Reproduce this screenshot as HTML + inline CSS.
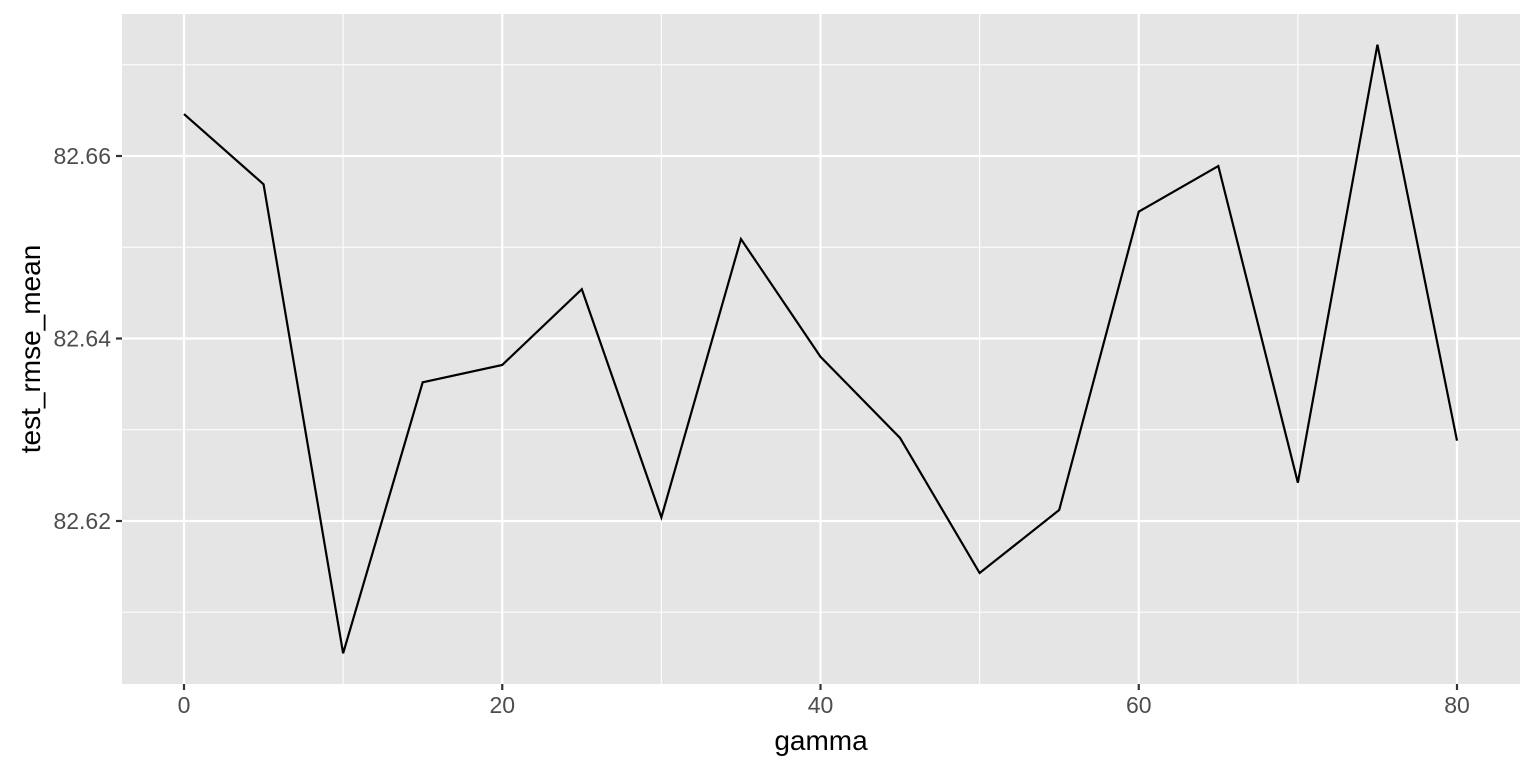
<!DOCTYPE html>
<html><head><meta charset="utf-8"><style>
html,body{margin:0;padding:0;background:#fff;}
svg{display:block;font-family:"Liberation Sans",Arial,sans-serif;}
</style></head><body>
<svg id="chart" width="1536" height="768" viewBox="0 0 1536 768">
<rect x="122" y="14" width="1398" height="670" fill="#e5e5e5"/>
<g id="grid"></g>
<path id="line" fill="none" stroke="#000" stroke-width="2.2"/>
<g id="axes"></g>
<text x="821" y="750" font-size="28" text-anchor="middle" fill="#000">gamma</text>
<text transform="translate(40,349) rotate(-90)" font-size="28" text-anchor="middle" fill="#000">test_rmse_mean</text>
</svg>
<script>
const gammaValues = [0,5,10,15,20,25,30,35,40,45,50,55,60,65,70,75,80];
const rmseValues = [82.6646,82.6569,82.6055,82.6352,82.6371,82.6454,82.6204,82.6509,82.6380,82.6291,82.6143,82.6212,82.6539,82.6589,82.6242,82.6722,82.6288];
const xTicks = [0,20,40,60,80];
const xMinor = [10,30,50,70];
const yTicks = [82.62,82.64,82.66];
const yMinor = [82.61,82.63,82.65,82.67];
const yTickLabels = ["82.62","82.64","82.66"];

function xs(v){return 184 + (v-0)*(1457-184)/80;}
function ys(v){return 156 + (82.66-v)*(521-156)/0.04;}
const NS="http://www.w3.org/2000/svg";
const grid=document.getElementById('grid'), axes=document.getElementById('axes');
function mk(tag,attrs,parent){const e=document.createElementNS(NS,tag);for(const k in attrs)e.setAttribute(k,attrs[k]);parent.appendChild(e);return e;}
yMinor.forEach(v=>{const l=mk('line',{x1:122,x2:1520,y1:ys(v),y2:ys(v),stroke:'#fff','stroke-width':1.1},grid);

});
xMinor.forEach(v=>{const l=mk('line',{x1:xs(v),x2:xs(v),y1:14,y2:684,stroke:'#fff','stroke-width':1.1},grid);

});
yTicks.forEach((v,i)=>{const l=mk('line',{x1:122,x2:1520,y1:ys(v),y2:ys(v),stroke:'#fff','stroke-width':2.2},grid);


const t=mk('line',{x1:116,x2:122,y1:ys(v),y2:ys(v),stroke:'#333','stroke-width':2.2},axes);


const tx=mk('text',{x:111,y:ys(v)+8,'font-size':23,'text-anchor':'end',fill:'#4d4d4d'},axes);tx.textContent=yTickLabels[i];

});
xTicks.forEach(v=>{const l=mk('line',{x1:xs(v),x2:xs(v),y1:14,y2:684,stroke:'#fff','stroke-width':2.2},grid);


const t=mk('line',{x1:xs(v),x2:xs(v),y1:684,y2:690,stroke:'#333','stroke-width':2.2},axes);


const tx=mk('text',{x:xs(v),y:713,'font-size':23,'text-anchor':'middle',fill:'#4d4d4d'},axes);tx.textContent=String(v);

});
document.getElementById('line').setAttribute('d',gammaValues.map((g,i)=>(i?'L':'M')+xs(g)+','+ys(rmseValues[i])).join(' '));
</script>
</body></html>
